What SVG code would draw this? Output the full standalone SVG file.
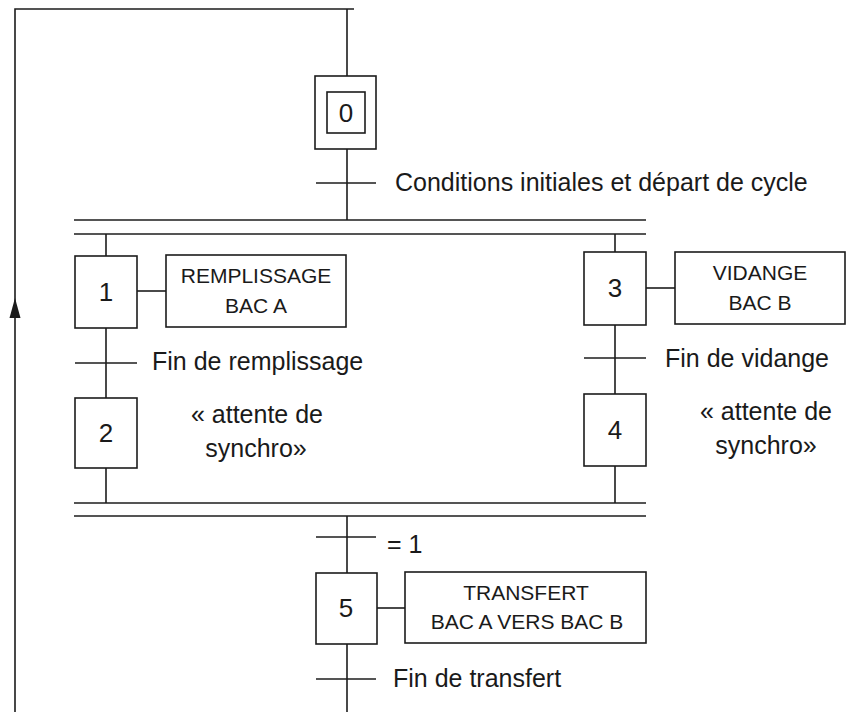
<svg xmlns="http://www.w3.org/2000/svg" width="847" height="712" viewBox="0 0 847 712">
<style>
.ln{stroke:#1c1c1c;stroke-width:1.6;fill:none}
.bx{stroke:#1c1c1c;stroke-width:1.6;fill:#fff}
.t{font-family:"Liberation Sans",Arial,sans-serif;font-size:25px;fill:#1a1a1a}
.n{font-family:"Liberation Sans",Arial,sans-serif;font-size:26px;fill:#1a1a1a;text-anchor:middle}
.a{font-family:"Liberation Sans",Arial,sans-serif;font-size:21px;fill:#1a1a1a;text-anchor:middle}
.c{text-anchor:middle}
</style>
<rect width="847" height="712" fill="#fff"/>
<g id="connectors">
<polyline class="ln" points="347,712 347,644"/>
<polyline class="ln" points="15,712 15,9 354,9"/>
<line class="ln" x1="347" y1="9" x2="347" y2="76"/>
<polygon points="15,298 9.5,318 20.5,318" fill="#1c1c1c"/>
<line class="ln" x1="347" y1="149" x2="347" y2="220"/>
<line class="ln" x1="316" y1="183" x2="376" y2="183"/>
<line class="ln" x1="74" y1="220" x2="646" y2="220"/>
<line class="ln" x1="74" y1="234" x2="646" y2="234"/>
<line class="ln" x1="106" y1="234" x2="106" y2="256"/>
<line class="ln" x1="615" y1="234" x2="615" y2="252"/>
<line class="ln" x1="137" y1="291" x2="166" y2="291"/>
<line class="ln" x1="646" y1="288" x2="675" y2="288"/>
<line class="ln" x1="106" y1="328" x2="106" y2="398"/>
<line class="ln" x1="75" y1="363" x2="137" y2="363"/>
<line class="ln" x1="615" y1="325" x2="615" y2="394"/>
<line class="ln" x1="584" y1="358" x2="646" y2="358"/>
<line class="ln" x1="106" y1="468" x2="106" y2="503"/>
<line class="ln" x1="615" y1="466" x2="615" y2="503"/>
<line class="ln" x1="74" y1="503" x2="646" y2="503"/>
<line class="ln" x1="74" y1="516" x2="646" y2="516"/>
<line class="ln" x1="347" y1="516" x2="347" y2="573"/>
<line class="ln" x1="316" y1="537" x2="376" y2="537"/>
<line class="ln" x1="377" y1="608" x2="405" y2="608"/>
<line class="ln" x1="316" y1="679" x2="376" y2="679"/>
</g>
<g id="labels">
<text class="t" x="395" y="191">Conditions initiales et départ de cycle</text>
<text class="t" x="152" y="370">Fin de remplissage</text>
<text class="t" x="665" y="367">Fin de vidange</text>
<text class="t c" x="257" y="423">« attente de</text>
<text class="t c" x="256" y="457">synchro»</text>
<text class="t c" x="766" y="420">« attente de</text>
<text class="t c" x="766" y="454">synchro»</text>
<text class="t" x="387" y="553">= 1</text>
<text class="t" x="393" y="687">Fin de transfert</text>
</g>
<g id="step0">
<rect class="bx" x="315" y="76" width="61" height="73"/>
<rect class="bx" x="327" y="92" width="38" height="41"/>
<text class="n" x="346" y="122">0</text>
</g>
<g id="step1">
<rect class="bx" x="75" y="256" width="62" height="72"/>
<text class="n" x="106" y="301">1</text>
</g>
<g id="action1">
<rect class="bx" x="166" y="255" width="180" height="72"/>
<text class="a" x="256" y="283">REMPLISSAGE</text>
<text class="a" x="256" y="313">BAC A</text>
</g>
<g id="step2">
<rect class="bx" x="75" y="398" width="62" height="70"/>
<text class="n" x="106" y="442">2</text>
</g>
<g id="step3">
<rect class="bx" x="584" y="252" width="62" height="73"/>
<text class="n" x="615" y="297">3</text>
</g>
<g id="action3">
<rect class="bx" x="675" y="252" width="170" height="72"/>
<text class="a" x="760" y="280">VIDANGE</text>
<text class="a" x="760" y="310">BAC B</text>
</g>
<g id="step4">
<rect class="bx" x="584" y="394" width="62" height="72"/>
<text class="n" x="615" y="439">4</text>
</g>
<g id="step5">
<rect class="bx" x="316" y="573" width="61" height="71"/>
<text class="n" x="346" y="617">5</text>
</g>
<g id="action5">
<rect class="bx" x="405" y="572" width="241" height="71"/>
<text class="a" x="526" y="600">TRANSFERT</text>
<text class="a" x="527" y="629">BAC A VERS BAC B</text>
</g>
</svg>
